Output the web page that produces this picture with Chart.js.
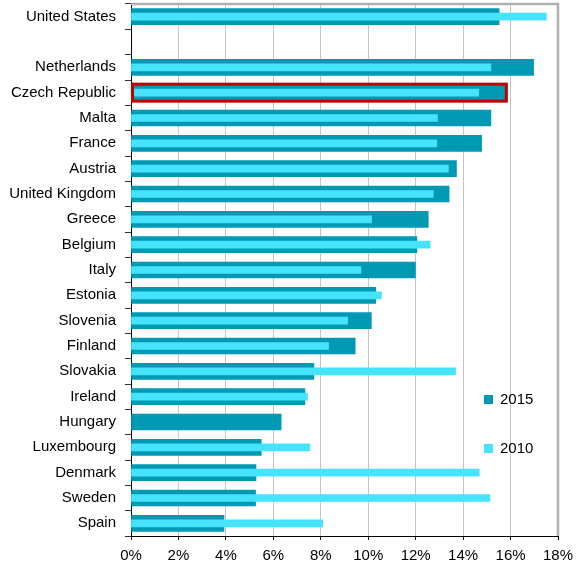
<!DOCTYPE html>
<html>
<head>
<meta charset="utf-8">
<script src="https://cdn.jsdelivr.net/npm/chart.js@4/dist/chart.umd.min.js"></script>
<style>
  html, body { margin: 0; padding: 0; background: #fff; }
  #wrap { position: relative; width: 578px; height: 567px; }
  .leg { position: absolute; font: 15px "Liberation Sans", Arial, sans-serif; color: #000; line-height: 15px; }
  .sw { position: absolute; width: 9px; height: 9px; }
</style>
</head>
<body>
<div id="wrap">
  <canvas id="chart" width="578" height="567"></canvas>
  <div class="sw" style="left:484px;top:395px;background:#0099b3"></div>
  <div class="leg" style="left:500px;top:391px">2015</div>
  <div class="sw" style="left:484px;top:444px;background:#46e3ff"></div>
  <div class="leg" style="left:500px;top:440px">2010</div>
</div>
<script>
// Datos
const paises = ['United States', '', 'Netherlands', 'Czech Republic', 'Malta', 'France', 'Austria',
  'United Kingdom', 'Greece', 'Belgium', 'Italy', 'Estonia', 'Slovenia', 'Finland', 'Slovakia',
  'Ireland', 'Hungary', 'Luxembourg', 'Denmark', 'Sweden', 'Spain'];
const valores2015 = [15.52, null, 16.97, 15.76, 15.17, 14.78, 13.72, 13.41, 12.53, 12.05, 11.99,
  10.32, 10.13, 9.45, 7.71, 7.33, 6.33, 5.49, 5.27, 5.25, 3.92];
const valores2010 = [17.51, null, 15.17, 14.66, 12.92, 12.89, 13.38, 12.74, 10.14, 12.61, 9.69,
  10.56, 9.13, 8.33, 13.68, 7.44, null, 7.54, 14.68, 15.13, 8.08];
const ticksX = [0, 2, 4, 6, 8, 10, 12, 14, 16, 18];
const destacado = 'Czech Republic';

const fuente = { family: '"Liberation Sans", Arial, sans-serif', size: 15 };

// Marco gris arriba y a la derecha + borde rojo del destacado
const marcoPlugin = {
  id: 'marco',
  afterDatasetsDraw(chart) {
    const ctx = chart.ctx;
    const meta = chart.getDatasetMeta(0);
    const idx = paises.indexOf(destacado);
    const bar = meta.data[idx];
    if (!bar) return;
    const p = bar.getProps(['x', 'y', 'base', 'height'], true);
    ctx.save();
    ctx.strokeStyle = '#c00000';
    ctx.lineWidth = 3;
    ctx.strokeRect(p.base + 1, p.y - p.height / 2 - 0.5, p.x - p.base + 0.5, p.height + 1);
    ctx.restore();
  },
  afterDraw(chart) {
    const { ctx, chartArea: a } = chart;
    ctx.save();
    ctx.strokeStyle = '#b0b0b0';
    ctx.lineWidth = 2.5;
    ctx.beginPath();
    ctx.moveTo(a.left, a.top);
    ctx.lineTo(a.right, a.top);
    ctx.lineTo(a.right, a.bottom);
    ctx.stroke();
    ctx.restore();
  }
};

new Chart(document.getElementById('chart'), {
  type: 'bar',
  data: {
    labels: paises,
    datasets: [
      {
        label: '2015',
        data: valores2015,
        backgroundColor: '#0099b3',
        barThickness: 16,
        grouped: false,
        order: 1
      },
      {
        label: '2010',
        data: valores2010,
        backgroundColor: '#46e3ff',
        barThickness: 7,
        grouped: false,
        order: 0
      }
    ]
  },
  options: {
    indexAxis: 'y',
    responsive: false,
    animation: false,
    layout: { padding: { top: 4, right: 20, left: 0, bottom: 0 } },
    plugins: {
      legend: { display: false },
      tooltip: { enabled: false }
    },
    scales: {
      x: {
        min: 0,
        max: 18,
        afterFit: s => { s.height = 31; s.paddingLeft = 0; s.paddingRight = 0; },
        afterBuildTicks: s => { s.ticks = ticksX.map(v => ({ value: v })); },
        ticks: {
          font: fuente,
          color: '#000',
          padding: 7,
          maxRotation: 0,
          callback: v => v + '%'
        },
        grid: {
          color: '#c4c4c4',
          borderDash: [3, 3],
          tickBorderDash: [],
          tickColor: '#000',
          tickLength: 4,
          drawTicks: true
        },
        border: { color: '#000', width: 1, dash: [] }
      },
      y: {
        afterFit: s => { s.width = 131; s.paddingTop = 0; s.paddingBottom = 0; },
        ticks: {
          font: fuente,
          color: '#000',
          padding: 9,
          autoSkip: false
        },
        grid: {
          offset: true,
          drawOnChartArea: false,
          tickColor: '#333',
          tickLength: 6
        },
        border: { color: '#000', width: 1 }
      }
    }
  },
  plugins: [marcoPlugin]
});
</script>
</body>
</html>
